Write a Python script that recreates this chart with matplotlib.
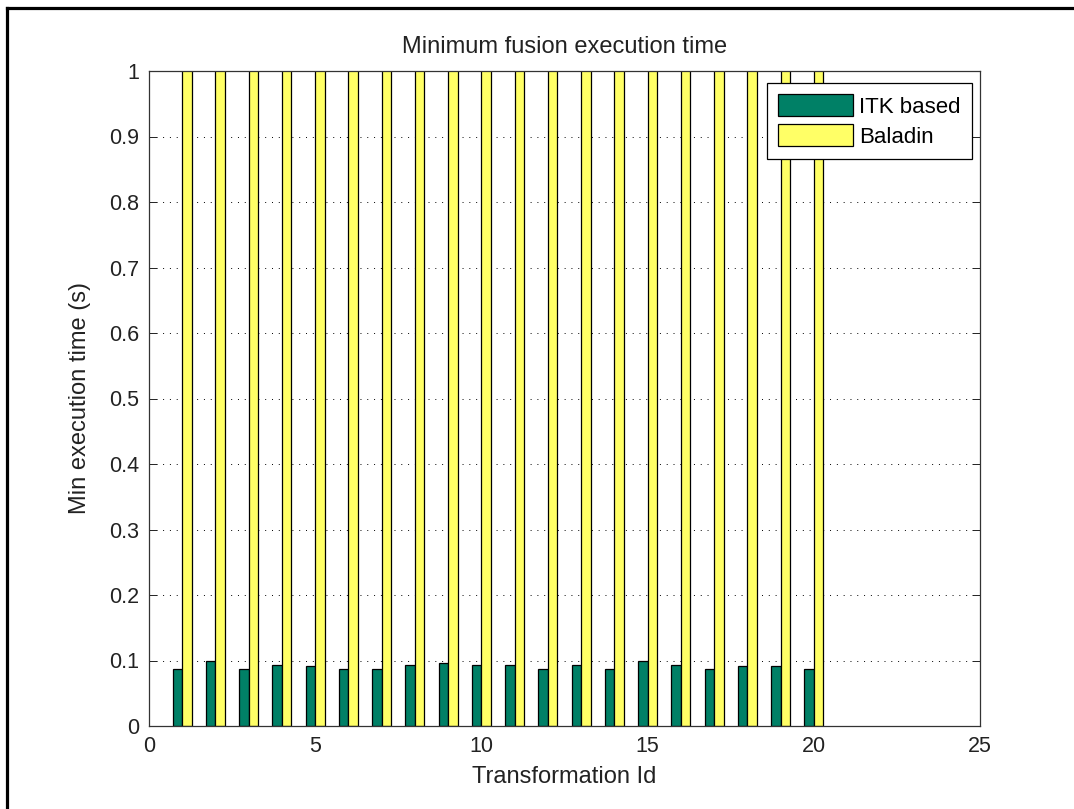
import matplotlib
matplotlib.use("Agg")
import matplotlib.pyplot as plt
from matplotlib.lines import Line2D
import numpy as np

plt.rcParams['font.family'] = ['Liberation Sans', 'DejaVu Sans']

# Transformation ids and minimum execution times (s)
transform_ids = list(range(1, 21))
itk_based = [0.087, 0.099, 0.087, 0.093, 0.091, 0.087, 0.087, 0.093, 0.096, 0.093,
             0.093, 0.087, 0.093, 0.087, 0.099, 0.093, 0.087, 0.091, 0.091, 0.087]
# Baladin times run well past the 1 s axis limit
baladin = [2.4, 2.3, 2.5, 2.4, 2.3, 2.4, 2.5, 2.3, 2.4, 2.4,
           2.3, 2.5, 2.4, 2.3, 2.4, 2.5, 2.4, 2.3, 2.4, 2.4]
series_labels = ['ITK based', 'Baladin']
x_ticks = [0, 5, 10, 15, 20, 25]
y_ticks = [0, 0.1, 0.2, 0.3, 0.4, 0.5, 0.6, 0.7, 0.8, 0.9, 1]
y_tick_labels = ['0', '0.1', '0.2', '0.3', '0.4', '0.5', '0.6', '0.7', '0.8', '0.9', '1']

green = (0.0, 0.5, 0.4)
yellow = (1.0, 1.0, 0.4)

W, H = 1074, 809
fig = plt.figure(figsize=(W / 100, H / 100), dpi=100)
fig.patch.set_facecolor('white')

ax = fig.add_axes([149 / W, 1 - 726 / H, 831 / W, 655 / H])

x = np.array(transform_ids, dtype=float)
group_w = 2 / 3.5
bw = group_w / 2
ax.bar(x - bw / 2, itk_based, width=bw, color=green, edgecolor='black',
       linewidth=0.9, label=series_labels[0], zorder=3)
ax.bar(x + bw / 2, baladin, width=bw, color=yellow, edgecolor='black',
       linewidth=0.9, label=series_labels[1], zorder=3)

ax.set_xlim(0, 25)
ax.set_ylim(0, 1)
ax.set_xticks(x_ticks)
ax.set_xticklabels([str(t) for t in x_ticks])
ax.set_yticks(y_ticks)
ax.set_yticklabels(y_tick_labels)

ax.grid(True, color='black', linestyle=(0, (1, 6)), linewidth=0.7, zorder=0)
ax.set_axisbelow(True)

ax.tick_params(direction='in', length=5.8, width=0.7, labelsize=15.5,
               top=True, right=True, pad=7, colors='#222222', labelcolor='#222222')
for sp in ax.spines.values():
    sp.set_linewidth(0.9)
    sp.set_color('#333333')
    sp.set_zorder(5)

ax.set_title('Minimum fusion execution time', fontsize=17, pad=13, color='#222222')
ax.set_xlabel('Transformation Id', fontsize=17, labelpad=7, color='#222222')
ax.set_ylabel('Min execution time (s)', fontsize=17, labelpad=13, color='#222222')

leg = ax.legend(loc='upper right', bbox_to_anchor=(972 / W, 1 - 83 / H),
                bbox_transform=fig.transFigure, borderaxespad=0,
                fontsize=16, handlelength=3.35, handleheight=1.15,
                handletextpad=0.3, labelspacing=0.3, borderpad=0.5,
                fancybox=False, framealpha=1, edgecolor='black')
leg.get_frame().set_linewidth(0.9)
leg.set_zorder(10)

# Frame lines along the top and left of the figure
fig.add_artist(Line2D([7.5 / W, 1.0], [1 - 8 / H, 1 - 8 / H], transform=fig.transFigure,
                      color='black', linewidth=2.3, solid_capstyle='projecting'))
fig.add_artist(Line2D([7.5 / W, 7.5 / W], [0.0, 1 - 8 / H], transform=fig.transFigure,
                      color='black', linewidth=2.3, solid_capstyle='projecting'))

fig.savefig('out.png', dpi=100, facecolor='white')
